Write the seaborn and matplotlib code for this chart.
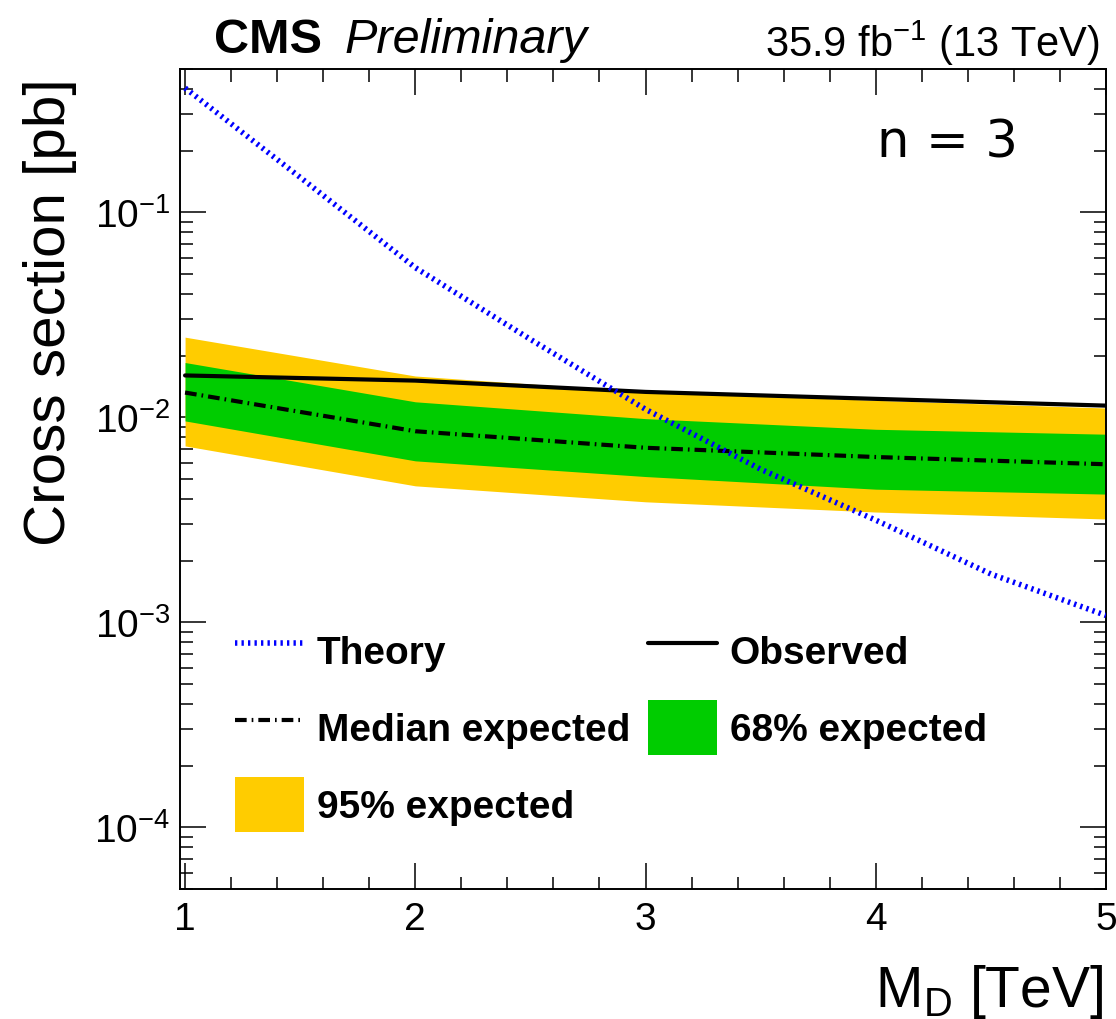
import matplotlib
matplotlib.use("Agg")
import numpy as np
import pandas as pd
import matplotlib.pyplot as plt
import seaborn as sns
from matplotlib.lines import Line2D
from matplotlib.patches import Patch
from matplotlib.ticker import FixedLocator, MultipleLocator, NullFormatter, FixedFormatter

# ---------------- data ----------------
md_points = [1, 2, 3, 4, 5]
observed = [0.0160, 0.0151, 0.0133, 0.0123, 0.0114]
median_expected = [0.0132, 0.00855, 0.0071, 0.0064, 0.0059]
band68_low = [0.0096, 0.00613, 0.00514, 0.00446, 0.00422]
band68_high = [0.0185, 0.0119, 0.00985, 0.00874, 0.00827]
band95_low = [0.00725, 0.00463, 0.00387, 0.00345, 0.00319]
band95_high = [0.0246, 0.0159, 0.0133, 0.0121, 0.0111]

md_theory = [1.0, 1.5, 2.0, 2.5, 3.0, 3.5, 4.0, 4.5, 5.0]
theory = [0.404, 0.148, 0.0537, 0.0240, 0.01094, 0.00558, 0.00315, 0.00172, 0.00108]

x_ticks = [1, 2, 3, 4, 5]
x_tick_labels = ["1", "2", "3", "4", "5"]
y_ticks = [1e-4, 1e-3, 1e-2, 1e-1]
y_tick_labels = [r"$10^{-4}$", r"$10^{-3}$", r"$10^{-2}$", r"$10^{-1}$"]
legend_labels = ["Theory", "Median expected", "95% expected", "Observed", "68% expected"]

# ---------------- style ----------------
sns.set_theme(style="ticks")
plt.rcParams["font.family"] = ["Liberation Sans", "DejaVu Sans"]
plt.rcParams["mathtext.fontset"] = "custom"
plt.rcParams["mathtext.rm"] = "Liberation Sans"
plt.rcParams["mathtext.it"] = "Liberation Sans:italic"
plt.rcParams["mathtext.bf"] = "Liberation Sans:bold"
plt.rcParams["axes.linewidth"] = 1.4
plt.rcParams["axes.edgecolor"] = "black"
plt.rcParams["text.color"] = "black"
plt.rcParams["axes.labelcolor"] = "black"
plt.rcParams["xtick.color"] = "black"
plt.rcParams["ytick.color"] = "black"

YELLOW = "#FFCC00"
GREEN = "#00CC00"
BLUE = "#0000FF"
THEORY_LS = (0, (0.42, 0.75))
MEDIAN_LS = (0, (2.8, 1.2, 0.4, 1.2))

fig = plt.figure(figsize=(11.16, 10.2), dpi=100)
ax = fig.add_axes([180 / 1116, 1 - 890 / 1020, (1106 - 180) / 1116, (890 - 70) / 1020])

ax.fill_between(md_points, band95_low, band95_high, color=YELLOW, linewidth=0, zorder=1)
ax.fill_between(md_points, band68_low, band68_high, color=GREEN, linewidth=0, zorder=2)

df_obs = pd.DataFrame({"md": md_points, "xs": observed})
df_med = pd.DataFrame({"md": md_points, "xs": median_expected})
df_th = pd.DataFrame({"md": md_theory, "xs": theory})

sns.lineplot(data=df_med, x="md", y="xs", ax=ax, color="black", linewidth=3.0,
             linestyle=MEDIAN_LS, zorder=3)
sns.lineplot(data=df_obs, x="md", y="xs", ax=ax, color="black", linewidth=3.0,
             linestyle="-", zorder=4)
sns.lineplot(data=df_th, x="md", y="xs", ax=ax, color=BLUE, linewidth=4.0,
             linestyle=THEORY_LS, zorder=5, dash_capstyle="butt")

ax.set_yscale("log")
ax.set_xlim(0.978, 5.0)
ax.set_ylim(5e-5, 0.5)

ax.xaxis.set_major_locator(FixedLocator(x_ticks))
ax.xaxis.set_major_formatter(FixedFormatter(x_tick_labels))
ax.xaxis.set_minor_locator(MultipleLocator(0.2))
ax.yaxis.set_major_locator(FixedLocator(y_ticks))
ax.yaxis.set_major_formatter(FixedFormatter(y_tick_labels))
minor_y = [m * 10.0 ** e for e in range(-5, 0) for m in range(2, 10)]
ax.yaxis.set_minor_locator(FixedLocator(minor_y))
ax.yaxis.set_minor_formatter(NullFormatter())

ax.tick_params(which="both", direction="in", top=True, right=True, color="black",
               labelsize=28, labelcolor="black")
ax.tick_params(which="major", length=18.5, width=1.1)
ax.tick_params(which="minor", length=9, width=1.1)
ax.tick_params(axis="x", which="major", pad=9)
ax.tick_params(axis="y", which="major", pad=7)

for s in ax.spines.values():
    s.set_visible(True)
    s.set_linewidth(1.4)
    s.set_color("black")

ax.set_facecolor("white")

ax.set_xlabel(r"$\mathrm{M_{D}}$ [TeV]", fontsize=41, color="black")
ax.xaxis.set_label_coords(0.997, (890 - 1007) / 820)
ax.xaxis.label.set_ha("right")
ax.xaxis.label.set_va("baseline")

ax.set_ylabel("Cross section [pb]", fontsize=42, color="black")
ax.yaxis.set_label_coords((65 - 180) / 926, 0.99)
ax.yaxis.label.set_ha("right")
ax.yaxis.label.set_va("baseline")

# header texts
fig.text(214 / 1116, 1 - 53 / 1020, "CMS", fontsize=35, fontweight="bold",
         ha="left", va="baseline", color="black")
fig.text(344 / 1116, 1 - 53 / 1020, "Preliminary", fontsize=35, fontstyle="italic",
         ha="left", va="baseline", color="black")
fig.text(1100 / 1116, 1 - 57 / 1020, r"35.9 fb$^{-1}$ (13 TeV)", fontsize=30,
         ha="right", va="baseline", color="black")
fig.text(1018 / 1116, 1 - 157 / 1020, "n = 3", fontsize=37, family="DejaVu Sans",
         ha="right", va="baseline", color="black")

# legend
handles = [
    Line2D([], [], color=BLUE, linewidth=4.0, linestyle=THEORY_LS, dash_capstyle="butt"),
    Line2D([], [], color="black", linewidth=3.0, linestyle=MEDIAN_LS),
    Patch(facecolor=YELLOW, edgecolor="none"),
    Line2D([], [], color="black", linewidth=3.0, linestyle="-"),
    Patch(facecolor=GREEN, edgecolor="none"),
]
leg = fig.legend(handles, legend_labels, ncol=2, loc="upper left",
                 bbox_to_anchor=(235 / 1116, 1 - 624.5 / 1020),
                 bbox_transform=fig.transFigure, frameon=False,
                 prop=dict(family="Liberation Sans", weight="bold", size=28),
                 labelcolor="black",
                 handlelength=1.77, handleheight=1.79, handletextpad=0.33,
                 labelspacing=0.57, columnspacing=0.46, borderpad=0, borderaxespad=0)

fig.savefig("out.png", dpi=100)
